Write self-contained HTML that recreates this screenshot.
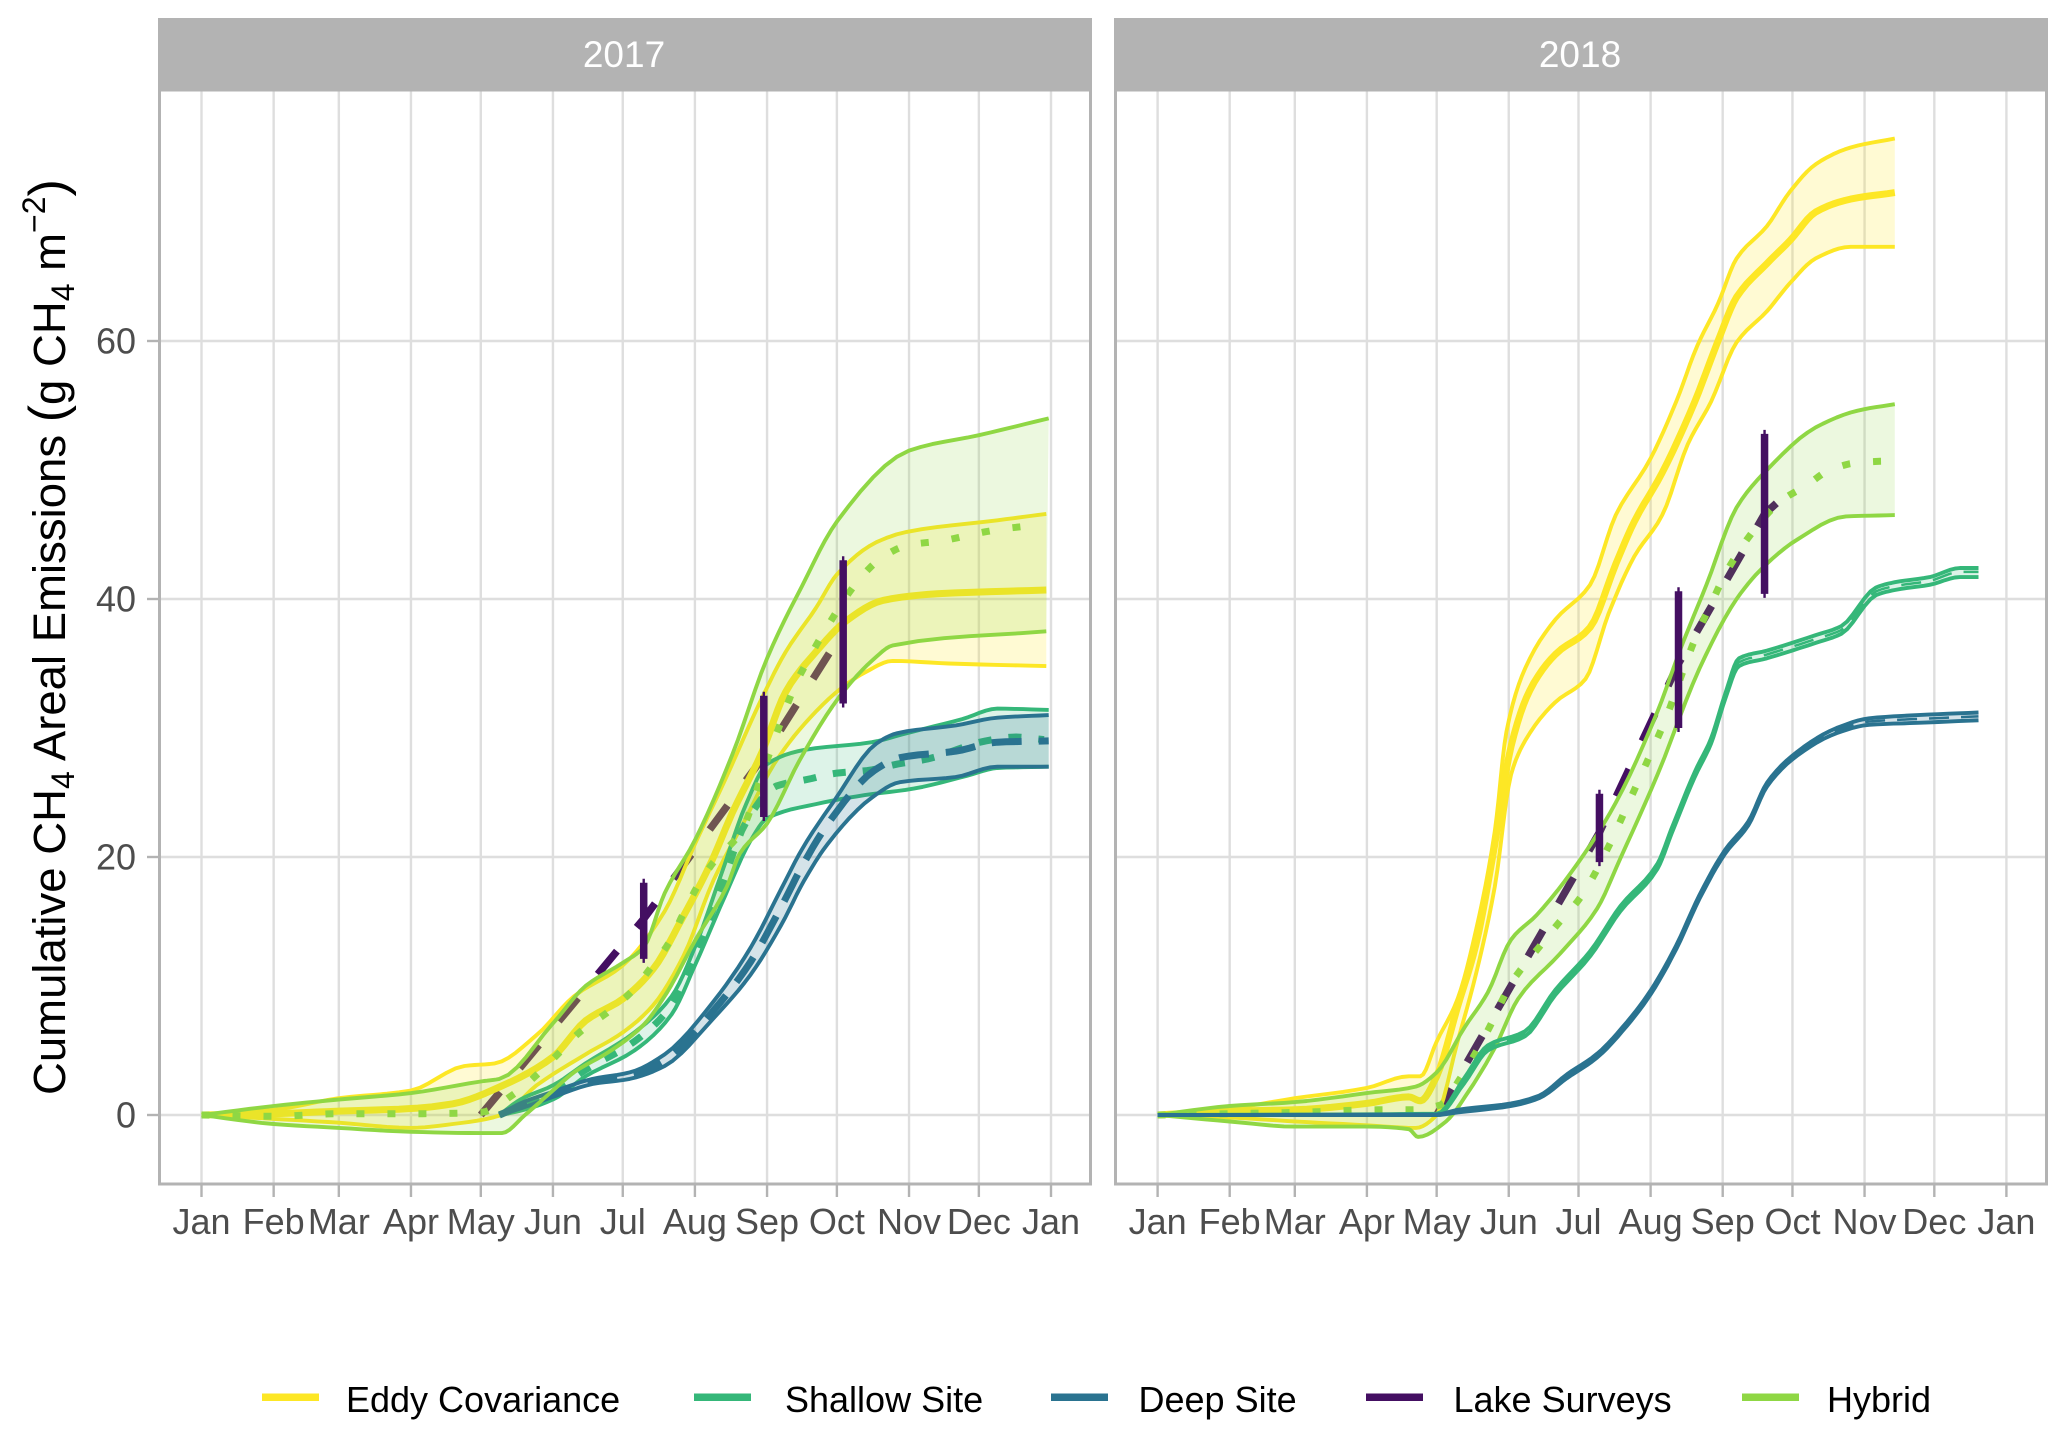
<!DOCTYPE html>
<html lang="en">
<head>
<meta charset="utf-8">
<title>Cumulative CH4 Areal Emissions</title>
<style>
html,body{margin:0;padding:0;background:#fff;}
svg{display:block;font-family:"Liberation Sans",Arial,sans-serif;}
</style>
</head>
<body>
<svg id="chart" xmlns="http://www.w3.org/2000/svg" width="2067" height="1437" viewBox="0 0 2067 1437">
<text transform="translate(65,1095) rotate(-90)" font-size="45.5" fill="#000">Cumulative CH<tspan dy="9" font-size="32">4</tspan><tspan dy="-9"> Areal Emissions </tspan><tspan font-size="52">(</tspan><tspan>g CH</tspan><tspan dy="9" font-size="32">4</tspan><tspan dy="-9"> m</tspan><tspan dy="-20" font-size="32">−2</tspan><tspan dy="20" font-size="52">)</tspan></text>
</svg>
<script>
// Axis tick data
const monthLabels = ['Jan','Feb','Mar','Apr','May','Jun','Jul','Aug','Sep','Oct','Nov','Dec','Jan'];
const monthDays = [0,31,59,90,120,151,181,212,243,273,304,334,365];
const yTickValues = [0,20,40,60];
const panelYears = ['2017','2018'];
const legendLabels = ['Eddy Covariance','Shallow Site','Deep Site','Lake Surveys','Hybrid'];

// 2017 Eddy Covariance
const eddy17UpperDays = [0,31,59,90,113,126,144,160,181,199,212,225,241,251,264,273,290,303,342,363];
const eddy17UpperVals = [0,0.4,1.3,1.9,3.8,4,6.2,9.2,11.6,15.8,21,26,32.4,35.9,39.3,41.9,44.4,45.2,46.1,46.6];
const eddy17LowerDays = [0,31,59,90,108,129,144,165,181,194,207,220,233,246,259,275,285,297,321,363];
const eddy17LowerVals = [0,-0.3,-0.6,-1,-0.7,0,2.3,4.7,6.4,8.5,12.3,18.2,22.7,27.2,30.3,33.1,34.3,35.2,35,34.8];
const eddy17MeanDays = [0,31,59,90,108,129,151,165,181,194,207,219,228,241,251,264,277,293,316,363];
const eddy17MeanVals = [0,0.1,0.3,0.5,0.87,2.25,4.5,7.3,9,11.3,15.4,19.6,23.4,28.2,32.8,35.9,38.3,39.9,40.4,40.7];

// 2017 Hybrid
const hybrid17UpperDays = [0,31,59,90,120,128,151,165,181,190,199,212,228,243,258,273,304,334,364];
const hybrid17UpperVals = [0,0.7,1.2,1.7,2.6,2.8,7.1,10,11.8,13,17.2,21.3,27.9,35.4,41,46,51.5,52.7,54];
const hybrid17LowerDays = [0,31,59,90,120,129,139,151,160,176,190,200,212,225.7,231.4,243,257,274,288.6,297,363];
const hybrid17LowerVals = [0,-0.7,-1,-1.3,-1.4,-1.4,0,1.9,3.3,5,7,9.5,13.5,17.7,20.3,22.6,27.5,32.4,35.3,36.4,37.5];
const hybrid17MeanDays = [0,31,59,90,120,134,144,153,163,174,185,193,201,207,213,220,232,241,250,255,261,268,283,293,304,318,331,343,357];
const hybrid17MeanVals = [0,-0.1,0.1,0.1,0.2,1.6,3.1,4.7,6.5,7.9,9.6,11.4,13.4,15.6,17.7,19.6,22,26.5,31,33.3,35.4,37.6,41.6,43.3,44.2,44.5,45,45.4,45.7];

// 2017 Shallow Site
const shallow17UpperDays = [128,137,151,165,186,202,212,223,234,243,259,288,303,327,342,364];
const shallow17UpperVals = [0,1.2,2.3,4,6.4,9.2,13,18.5,24.1,27.2,28.3,28.9,29.6,30.7,31.5,31.4];
const shallow17LowerDays = [128,134,151,165,186,202,212,225,236,243,264,285,306,329,342,364];
const shallow17LowerVals = [0,0.2,1.2,3,5,7.8,11.6,17,21.3,23,24.1,24.8,25.3,26.3,26.9,27];
const shallow17MeanDays = [128,151,165,186,202,212,223,234,247,260,273,286,299,312,337,350,362];
const shallow17MeanVals = [0,1.8,3.5,5.7,8.5,12.3,17.5,22.7,25.5,26,26.5,26.7,27.2,27.6,29,29.3,29.1];

// 2017 Deep Site
const deep17UpperDays = [128,137,151,168,184,199,220,236,249,258,272,290,299,324,342,364];
const deep17UpperVals = [0,0.9,1.8,2.8,3.3,4.7,8.8,13,17.5,20.6,24.4,28.8,29.6,30.2,30.8,31];
const deep17LowerDays = [128,137,151,168,184,199,220,236,249,259,269,288,300,324,342,364];
const deep17LowerVals = [0,0.5,1.4,2.4,2.8,3.8,7.5,10.9,14.7,18.2,21,24.6,25.8,26.2,27,27];
const deep17MeanDays = [128,137,151,168,184,199,220,236,249,259,270,289,300,324,342,364];
const deep17MeanVals = [0,0.7,1.6,2.6,3,4.2,8.1,11.9,16.1,19.6,22.8,26.7,27.7,28.2,28.9,29];

// 2017 Lake Surveys
const lake17MeanDays = [120,190,241.6,275.7];
const lake17MeanVals = [0,15.2,27.8,37.5];
const lake17BarDays = [190,241.6,275.7];
const lake17BarLow = [12.1,23.1,31.9];
const lake17BarHigh = [18,32.5,43];

// 2018 Eddy Covariance
const eddy18UpperDays = [0,31,59,90,108,113,120,129,137,145,150,158,171,186,197,212,223,232,241,249,262,272,283,298,317];
const eddy18UpperVals = [0,0.5,1.3,2.1,3,3,5.7,9,14.4,22,29.7,34.6,38.4,41.1,46.5,50.9,55.3,59.6,62.9,66.4,68.9,71.6,73.7,75,75.7];
const eddy18LowerDays = [0,31,59,90,111,120,129,137,145,152,158,171,184,194,205,217,228,238,249,262,272,283,298,317];
const eddy18LowerVals = [0,-0.2,-0.5,-0.8,-1,0,5.7,11,17.7,26.4,29,32,33.8,38.9,43.3,46.5,52,55.3,59.9,62.3,64.5,66.4,67.3,67.3];
const eddy18MeanDays = [0,31,59,90,108,113,120,129,137,145,152,160,171,186,197,205,217,231,241,249,262,272,283,298,317];
const eddy18MeanVals = [0,0.3,0.4,0.9,1.4,1.1,3,8.4,13.3,21,28.6,32.9,35.7,37.8,42.7,46,49.8,55.3,60,63.4,66,67.8,70,71,71.5];

// 2018 Hybrid
const hybrid18UpperDays = [0,31,59,90,111,120,132,142,152,163,181,197,215,225,236,249,262,283,301,317];
const hybrid18UpperVals = [0,0.7,1,1.7,2.2,3.3,6.8,9.5,13.6,15.5,19.6,24.2,31.3,36.2,41.1,47.1,50,53.3,54.6,55.1];
const hybrid18LowerDays = [0,31,59,90,108,112,124,134,145,155,173,189,199,215,233,249,259,275,296,317];
const hybrid18LowerVals = [0,-0.5,-0.9,-0.9,-1.1,-1.7,-0.5,1.9,5.2,9,12.5,16,19.9,26.4,34.6,40,42.2,44.6,46.4,46.5];
const hybrid18MeanDays = [0,31,59,95,109,122,130,137,143,152,164,173,182,195,201,212,218,232,238,244,258,268,279,289,302,315];
const hybrid18MeanVals = [0,0.1,0.2,0.4,0.4,0.8,2.8,4.9,6.9,10.2,13,15,16.9,21.2,23.6,28,30.5,37.3,39.6,41.9,45.7,47.6,48.8,50,50.6,50.7];

// 2018 Shallow Site
const shallow18Days = [0,120,132,142,158,171,186,199,215,221,231,238,244,250,262,283,294,309,317,332,345,353];
const shallow18Upper = [0,0.1,2.9,5.4,6.5,9.7,12.7,16.2,19.5,22.2,26.6,29.2,32.6,35.4,36,37.2,37.9,40.9,41.3,41.7,42.4,42.4];
const shallow18Mean = [0,0.1,2.7,5.2,6.3,9.5,12.5,16,19.3,22,26.4,29,32.4,35.1,35.7,36.9,37.6,40.6,41,41.4,42.1,42.1];
const shallow18Lower = [0,0,2.5,5,6.1,9.3,12.3,15.8,19.1,21.8,26.2,28.8,32.2,34.8,35.4,36.6,37.3,40.3,40.7,41.1,41.7,41.7];

// 2018 Deep Site
const deep18Days = [0,120,129,152,164,176,189,202,212,223,233,244,254,262,275,292,306,327,353];
const deep18Upper = [0,0.05,0.4,0.9,1.5,3.15,4.75,7.25,9.65,13.15,17.05,20.55,22.75,25.75,28.15,30,30.75,31,31.2];
const deep18Mean = [0,0,0.3,0.8,1.4,3,4.6,7.1,9.5,13,16.9,20.4,22.6,25.6,28,29.8,30.5,30.7,30.9];
const deep18Lower = [0,0,0.2,0.7,1.3,2.85,4.45,6.95,9.35,12.85,16.75,20.25,22.45,25.45,27.85,29.6,30.25,30.4,30.6];

// 2018 Lake Surveys
const lake18MeanDays = [120,190,224,261,274];
const lake18MeanVals = [0,21.9,35,46.6,48.7];
const lake18BarDays = [190,224,261];
const lake18BarLow = [19.6,30,40.4];
const lake18BarHigh = [24.9,40.6,52.8];

const NS = 'http://www.w3.org/2000/svg';
const svg = document.getElementById('chart');

const COLORS = {eddy:'#FDE725', shallow:'#35B779', deep:'#2A7390', lake:'#440F62', hybrid:'#8FD744'};

function xScale(panel, day) {
  return panel === 0 ? 201.5 + day * 2.3274 : 1157.6 + day * 2.3255;
}
function yScale(v) {
  return 1115 - v * 12.9;
}
function make(tag, attrs, parent) {
  const el = document.createElementNS(NS, tag);
  for (const k in attrs) el.setAttribute(k, attrs[k]);
  (parent || svg).appendChild(el);
  return el;
}
// Monotone cubic resampling so the read-off points join as smooth curves
function smooth(days, vals) {
  const n = days.length;
  if (n < 3) return {d:days.slice(), v:vals.slice()};
  const slopes = [];
  for (let i = 0; i < n - 1; i++) slopes.push((vals[i+1]-vals[i])/(days[i+1]-days[i]));
  const tan = [slopes[0]];
  for (let i = 1; i < n - 1; i++) {
    if (slopes[i-1] * slopes[i] <= 0) { tan.push(0); continue; }
    const h0 = days[i]-days[i-1], h1 = days[i+1]-days[i];
    const w0 = 2*h1+h0, w1 = h1+2*h0;
    tan.push((w0+w1)/(w0/slopes[i-1]+w1/slopes[i]));
  }
  tan.push(slopes[n-2]);
  const outD = [days[0]], outV = [vals[0]];
  for (let i = 0; i < n - 1; i++) {
    const h = days[i+1]-days[i];
    for (let s = 1; s <= 6; s++) {
      const t = s/6, t2 = t*t, t3 = t2*t;
      outD.push(days[i]+t*h);
      outV.push((2*t3-3*t2+1)*vals[i]+(t3-2*t2+t)*h*tan[i]+(-2*t3+3*t2)*vals[i+1]+(t3-t2)*h*tan[i+1]);
    }
  }
  return {d:outD, v:outV};
}
function pointsOf(panel, days, vals, straight) {
  const s = straight ? {d:days, v:vals} : smooth(days, vals);
  return s.d.map(function (d, i) {
    return xScale(panel, d).toFixed(1) + ',' + yScale(s.v[i]).toFixed(1);
  });
}

const PANEL_LEFT = [159.5, 1115.5];
const PANEL_RIGHT = [1090.5, 2046.5];
const PANEL_TOP = 90;
const PANEL_BOTTOM = 1184;

function drawPanelFrame(panel) {
  const left = PANEL_LEFT[panel], right = PANEL_RIGHT[panel];
  const strip = make('rect', {x:left-1.5, y:18, width:right-left+3, height:72, fill:'#b3b3b3'});
  
  
  const stripLabel = make('text', {x:(left+right)/2-1, y:67, 'text-anchor':'middle', 'font-size':37, fill:'#fff'});
  stripLabel.textContent = panelYears[panel];
  
  

  yTickValues.forEach(function (v) {
    const grid = make('line', {x1:left, x2:right, y1:yScale(v), y2:yScale(v), stroke:'#dedede', 'stroke-width':2.4});
    
    
    if (panel === 0) {
      const tick = make('line', {x1:147, x2:left, y1:yScale(v), y2:yScale(v), stroke:'#b3b3b3', 'stroke-width':2.4});
      
      
      const label = make('text', {x:136, y:yScale(v)+12.5, 'text-anchor':'end', 'font-size':36, fill:'#4d4d4d'});
      label.textContent = String(v);
      
      
    }
  });
  monthDays.forEach(function (d, i) {
    const x = xScale(panel, d);
    const grid = make('line', {x1:x, x2:x, y1:PANEL_TOP, y2:PANEL_BOTTOM, stroke:'#dedede', 'stroke-width':2.4});
    
    
    const tick = make('line', {x1:x, x2:x, y1:PANEL_BOTTOM, y2:1197, stroke:'#b3b3b3', 'stroke-width':2.4});
    
    
    const label = make('text', {x:x, y:1234, 'text-anchor':'middle', 'font-size':36, fill:'#4d4d4d'});
    label.textContent = monthLabels[i];
    
    
  });
}

function drawPanelBorder(panel) {
  const left = PANEL_LEFT[panel], right = PANEL_RIGHT[panel];
  const border = make('rect', {x:left, y:PANEL_TOP, width:right-left, height:PANEL_BOTTOM-PANEL_TOP, fill:'none', stroke:'#b3b3b3', 'stroke-width':3});
  
  
}

function drawRibbon(panel, name, color, opacity, upDays, upVals, loDays, loVals) {
  const up = pointsOf(panel, upDays, upVals);
  const lo = pointsOf(panel, loDays, loVals).reverse();
  const ribbon = make('polygon', {points:up.concat(lo).join(' '), fill:color, 'fill-opacity':opacity, stroke:'none'});
  
  
}
function drawLine(panel, name, color, width, dash, days, vals, straight) {
  const attrs = {points:pointsOf(panel, days, vals, straight).join(' '), fill:'none', stroke:color, 'stroke-width':width, 'stroke-linejoin':'round'};
  if (dash) attrs['stroke-dasharray'] = dash;
  const line = make('polyline', attrs);
  
  
}
function drawBars(panel, days, lows, highs) {
  days.forEach(function (d, i) {
    const x = xScale(panel, d);
    const whisker = make('line', {x1:x, x2:x, y1:yScale(highs[i])-4, y2:yScale(lows[i])+4, stroke:COLORS.lake, 'stroke-width':2.4});
    
    
    const bar = make('line', {x1:x, x2:x, y1:yScale(highs[i]), y2:yScale(lows[i]), stroke:COLORS.lake, 'stroke-width':7.5});
    
    
  });
}

const THIN = 3.9, THICK = 7;
const DOT = '8 23', SHALLOW_DASH = '13 17', DEEP_DASH = '30 17', LAKE_DASH = '30 31';
const RIB = 0.2, RIB_HY = 0.17;

drawPanelFrame(0);
drawPanelFrame(1);

// Panel 2017
drawLine(0, 'lake-surveys-2017-mean', COLORS.lake, 7.5, LAKE_DASH, lake17MeanDays, lake17MeanVals, true);
drawRibbon(0, 'eddy-covariance-2017', COLORS.eddy, RIB, eddy17UpperDays, eddy17UpperVals, eddy17LowerDays, eddy17LowerVals);
drawLine(0, 'eddy-covariance-2017-upper', COLORS.eddy, THIN, null, eddy17UpperDays, eddy17UpperVals);
drawLine(0, 'eddy-covariance-2017-lower', COLORS.eddy, THIN, null, eddy17LowerDays, eddy17LowerVals);
drawLine(0, 'eddy-covariance-2017-mean', COLORS.eddy, THICK, null, eddy17MeanDays, eddy17MeanVals);
drawRibbon(0, 'shallow-site-2017', COLORS.shallow, RIB_HY, shallow17UpperDays, shallow17UpperVals, shallow17LowerDays, shallow17LowerVals);
drawLine(0, 'shallow-site-2017-upper', COLORS.shallow, THIN, null, shallow17UpperDays, shallow17UpperVals);
drawLine(0, 'shallow-site-2017-lower', COLORS.shallow, THIN, null, shallow17LowerDays, shallow17LowerVals);
drawLine(0, 'shallow-site-2017-mean', COLORS.shallow, THICK, SHALLOW_DASH, shallow17MeanDays, shallow17MeanVals);
drawRibbon(0, 'deep-site-2017', COLORS.deep, RIB, deep17UpperDays, deep17UpperVals, deep17LowerDays, deep17LowerVals);
drawLine(0, 'deep-site-2017-upper', COLORS.deep, THIN, null, deep17UpperDays, deep17UpperVals);
drawLine(0, 'deep-site-2017-lower', COLORS.deep, THIN, null, deep17LowerDays, deep17LowerVals);
drawLine(0, 'deep-site-2017-mean', COLORS.deep, THICK, DEEP_DASH, deep17MeanDays, deep17MeanVals);
drawRibbon(0, 'hybrid-2017', COLORS.hybrid, RIB_HY, hybrid17UpperDays, hybrid17UpperVals, hybrid17LowerDays, hybrid17LowerVals);
drawLine(0, 'hybrid-2017-upper', COLORS.hybrid, THIN, null, hybrid17UpperDays, hybrid17UpperVals);
drawLine(0, 'hybrid-2017-lower', COLORS.hybrid, THIN, null, hybrid17LowerDays, hybrid17LowerVals);
drawLine(0, 'hybrid-2017-mean', COLORS.hybrid, THICK, DOT, hybrid17MeanDays, hybrid17MeanVals);
drawBars(0, lake17BarDays, lake17BarLow, lake17BarHigh);

// Panel 2018
drawLine(1, 'lake-surveys-2018-mean', COLORS.lake, 7.5, LAKE_DASH, lake18MeanDays, lake18MeanVals, true);
drawRibbon(1, 'eddy-covariance-2018', COLORS.eddy, RIB, eddy18UpperDays, eddy18UpperVals, eddy18LowerDays, eddy18LowerVals);
drawLine(1, 'eddy-covariance-2018-upper', COLORS.eddy, THIN, null, eddy18UpperDays, eddy18UpperVals);
drawLine(1, 'eddy-covariance-2018-lower', COLORS.eddy, THIN, null, eddy18LowerDays, eddy18LowerVals);
drawLine(1, 'eddy-covariance-2018-mean', COLORS.eddy, THICK, null, eddy18MeanDays, eddy18MeanVals);
drawRibbon(1, 'hybrid-2018', COLORS.hybrid, RIB_HY, hybrid18UpperDays, hybrid18UpperVals, hybrid18LowerDays, hybrid18LowerVals);
drawLine(1, 'hybrid-2018-upper', COLORS.hybrid, THIN, null, hybrid18UpperDays, hybrid18UpperVals);
drawLine(1, 'hybrid-2018-lower', COLORS.hybrid, THIN, null, hybrid18LowerDays, hybrid18LowerVals);
drawLine(1, 'hybrid-2018-mean', COLORS.hybrid, THICK, DOT, hybrid18MeanDays, hybrid18MeanVals);
drawRibbon(1, 'shallow-site-2018', COLORS.shallow, RIB_HY, shallow18Days, shallow18Upper, shallow18Days, shallow18Lower);
drawLine(1, 'shallow-site-2018-upper', COLORS.shallow, THIN, null, shallow18Days, shallow18Upper);
drawLine(1, 'shallow-site-2018-lower', COLORS.shallow, THIN, null, shallow18Days, shallow18Lower);
drawLine(1, 'shallow-site-2018-mean', COLORS.shallow, 2.5, '20 12', shallow18Days, shallow18Mean);
drawRibbon(1, 'deep-site-2018', COLORS.deep, RIB, deep18Days, deep18Upper, deep18Days, deep18Lower);
drawLine(1, 'deep-site-2018-upper', COLORS.deep, THIN, null, deep18Days, deep18Upper);
drawLine(1, 'deep-site-2018-lower', COLORS.deep, THIN, null, deep18Days, deep18Lower);
drawLine(1, 'deep-site-2018-mean', COLORS.deep, 2.5, '20 12', deep18Days, deep18Mean);
drawBars(1, lake18BarDays, lake18BarLow, lake18BarHigh);

drawPanelBorder(0);
drawPanelBorder(1);

// Legend
const legendKeyColors = [COLORS.eddy, COLORS.shallow, COLORS.deep, COLORS.lake, COLORS.hybrid];
const legendKeyLeft = [262, 694, 1051, 1366, 1742];
const legendTextLeft = [346, 785, 1138.5, 1453.5, 1827];
legendLabels.forEach(function (label, i) {
  const group = make('g', {});
  
  
  const key = make('rect', {x:legendKeyLeft[i], y:1393.5, width:57, height:7.5, fill:legendKeyColors[i]}, group);
  
  
  const text = make('text', {x:legendTextLeft[i], y:1412, 'font-size':36, fill:'#000'}, group);
  text.textContent = label;
  
  
});
</script>
</body>
</html>
